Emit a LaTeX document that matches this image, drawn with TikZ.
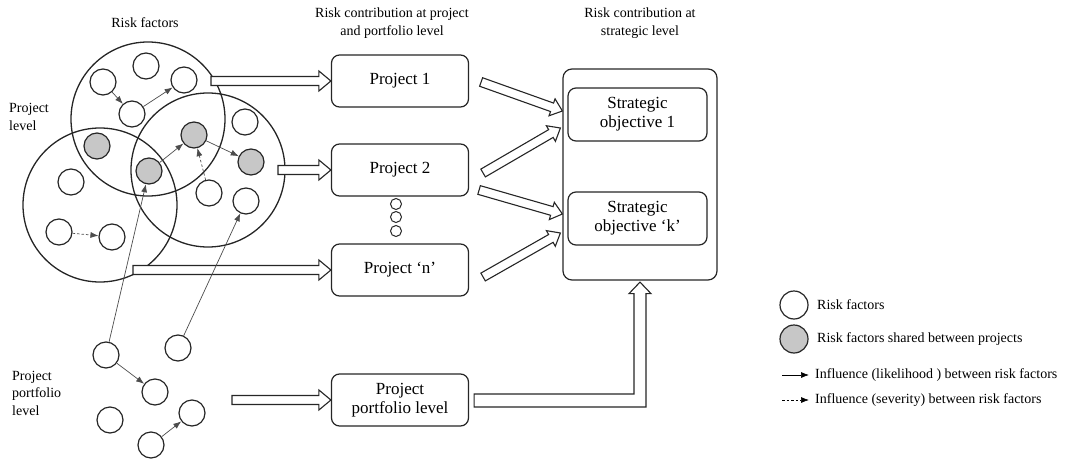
\documentclass[tikz,border=0pt]{standalone}
\usepackage{fontspec}
\setmainfont{Liberation Serif}
\usetikzlibrary{calc,arrows.meta}
\newcommand{\blockarr}[5]{%
  \path ($(#2)!#5!(#1)$) coordinate (bah);
  \draw[blk] ($(#1)!#3!90:(#2)$) -- ($(bah)!#3!-90:(#1)$) -- ($(bah)!#4!-90:(#1)$) -- (#2) -- ($(bah)!#4!90:(#1)$) -- ($(bah)!#3!90:(#1)$) -- ($(#1)!#3!-90:(#2)$) -- cycle;}
\begin{document}
\begin{tikzpicture}[x=1pt,y=-1pt,
  big/.style={circle,draw=black!85,line width=1.3pt,minimum size=154pt,inner sep=0pt},
  rf/.style={circle,draw=black!85,line width=1.2pt,fill=white,minimum size=26pt,inner sep=0pt},
  rfs/.style={rf,fill=black!22},
  box/.style={draw=black!85,line width=1.2pt,rounded corners=8pt,fill=white,minimum width=137pt,minimum height=52pt,align=center,font=\fontsize{17}{19}\selectfont},
  lab/.style={font=\fontsize{14}{18}\selectfont,align=center,inner sep=0pt},
  inf/.style={draw=black!70,line width=0.7pt,-{Latex[length=8pt,width=6pt]}},
  infd/.style={inf,dash pattern=on 2.5pt off 2pt},
  blk/.style={draw=black!85,line width=1.1pt,fill=white,line join=miter},
  dotc/.style={circle,draw=black!85,line width=1pt,minimum size=11pt,inner sep=0pt}
]
\useasboundingbox (0,0) rectangle (1067,460);

% headers
\node[lab] (h1) at (145,23) {Risk factors};
\node[lab] (h2) at (392,23) {Risk contribution at project\\and portfolio level};
\node[lab] (h3) at (640,23) {Risk contribution at\\strategic level};
\node[lab,anchor=west,align=left] (hpl) at (9,117) {Project\\level};
\node[lab,anchor=west,align=left,font=\fontsize{14}{17.5}\selectfont] (hppl) at (12,393) {Project\\portfolio\\level};

% big circles
\node[big] (bt) at (148,119) {};
\node[big] (br) at (208,170) {};
\node[big] (bl) at (100,205) {};

% boxes
\node[box] (proj1) at (400,81) {Project 1};
\node[box] (proj2) at (400,170) {Project 2};
\node[box] (projn) at (400,270) {Project `n'};
\node[box] (ppl) at (400,400) {Project\\portfolio level};
\node[dotc] (dt1) at (396,204) {};
\node[dotc] (dt2) at (396,217) {};
\node[dotc] (dt3) at (396,231) {};

\node[draw=black!85,line width=1.2pt,rounded corners=9pt,minimum width=154pt,minimum height=211pt] (sb) at (640,174.5) {};
\node[box,minimum width=139pt,minimum height=53pt] (so1) at (637.5,114.5) {Strategic\\objective 1};
\node[box,minimum width=139pt,minimum height=53pt] (sok) at (637.5,218.5) {Strategic\\objective `k'};

% block arrows
\coordinate (a1s) at (211,81);
\coordinate (a2s) at (278,170);
\coordinate (a3s) at (133,270);
\coordinate (a4s) at (232,400);
\blockarr{a1s}{proj1.west}{4.5pt}{10pt}{12pt}
\blockarr{a2s}{proj2.west}{4.5pt}{10pt}{12pt}
\blockarr{a3s}{projn.west}{4.5pt}{10pt}{12pt}
\blockarr{a4s}{ppl.west}{4.5pt}{10pt}{12pt}

\coordinate (d1s) at ($(proj1.east)+(12,1)$);
\coordinate (d1e) at ($(sb.west)+(0,-63.5)$);
\coordinate (d2s) at ($(proj2.east)+(14,3)$);
\coordinate (d2e) at ($(sb.west)+(-2,-46.5)$);
\coordinate (d3s) at ($(proj2.east)+(10,20)$);
\coordinate (d3e) at ($(sb.west)+(0,39.5)$);
\coordinate (d4s) at ($(projn.east)+(14,7)$);
\coordinate (d4e) at ($(sb.west)+(-2,58.5)$);
\blockarr{d1s}{d1e}{4.5pt}{9pt}{11pt}
\blockarr{d2s}{d2e}{4.5pt}{9pt}{11pt}
\blockarr{d3s}{d3e}{4.5pt}{9pt}{11pt}
\blockarr{d4s}{d4e}{4.5pt}{9pt}{11pt}

% elbow arrow
\coordinate (ec) at (sb.south |- ppl.east);
\draw[blk] ($(ppl.east)+(5,-6)$) -- ($(ec)+(-6,-6)$) -- ($(sb.south)+(-6,13)$) -- ($(sb.south)+(-11,13)$) -- ($(sb.south)+(0,1.5)$) -- ($(sb.south)+(11,13)$) -- ($(sb.south)+(6,13)$) -- ($(ec)+(6,7)$) -- ($(ppl.east)+(5,7)$) -- cycle;

% risk factors, top circle
\node[rf] (t1) at (146,66) {};
\node[rf] (t2) at (103,82) {};
\node[rf] (t3) at (184,80) {};
\node[rf] (t4) at (132,114) {};
\node[rfs] (g1) at (97,146) {};
% right circle
\node[rfs] (g2) at (194,135) {};
\node[rfs] (g3) at (149,171) {};
\node[rfs] (g4) at (251,162) {};
\node[rf] (r1) at (245,122) {};
\node[rf] (r2) at (209,193) {};
\node[rf] (r3) at (246,201) {};
% left circle
\node[rf] (l1) at (71,182) {};
\node[rf] (l2) at (59,232) {};
\node[rf] (l3) at (112,237) {};
% portfolio
\node[rf] (p1) at (106,355) {};
\node[rf] (p2) at (178,348) {};
\node[rf] (p3) at (155,392) {};
\node[rf] (p4) at (110,420) {};
\node[rf] (p5) at (192,413) {};
\node[rf] (p6) at (151,445) {};

% influences
\draw[inf] (t2) -- (t4);
\draw[inf] (t4) -- (t3);
\draw[inf] (g3) -- (g2);
\draw[infd] (r2) -- (g2);
\draw[inf] (g2) -- (g4);
\draw[infd] (l2) -- (l3);
\draw[inf] (p1) -- (g3);
\draw[inf] (p2) -- (r3);
\draw[inf] (p1) -- (p3);
\draw[inf] (p6) -- (p5);

% legend
\node[rf,minimum size=28pt] (lg1) at (794,305) {};
\node[lab,anchor=west] (lt1) at (817,305) {Risk factors};
\node[rfs,minimum size=28pt] (lg2) at (794,339) {};
\node[lab,anchor=west] (lt2) at (817,339) {Risk factors shared between projects};
\coordinate (lg3a) at (782,375);
\coordinate (lg3b) at (809,375);
\draw[inf,draw=black] (lg3a) -- (lg3b);
\node[lab,anchor=west] (lt3) at (815,375) {Influence (likelihood ) between risk factors};
\coordinate (lg4a) at (782,400);
\coordinate (lg4b) at (809,400);
\draw[infd,draw=black] (lg4a) -- (lg4b);
\node[lab,anchor=west] (lt4) at (815,400) {Influence (severity) between risk factors};
\end{tikzpicture}
\end{document}
